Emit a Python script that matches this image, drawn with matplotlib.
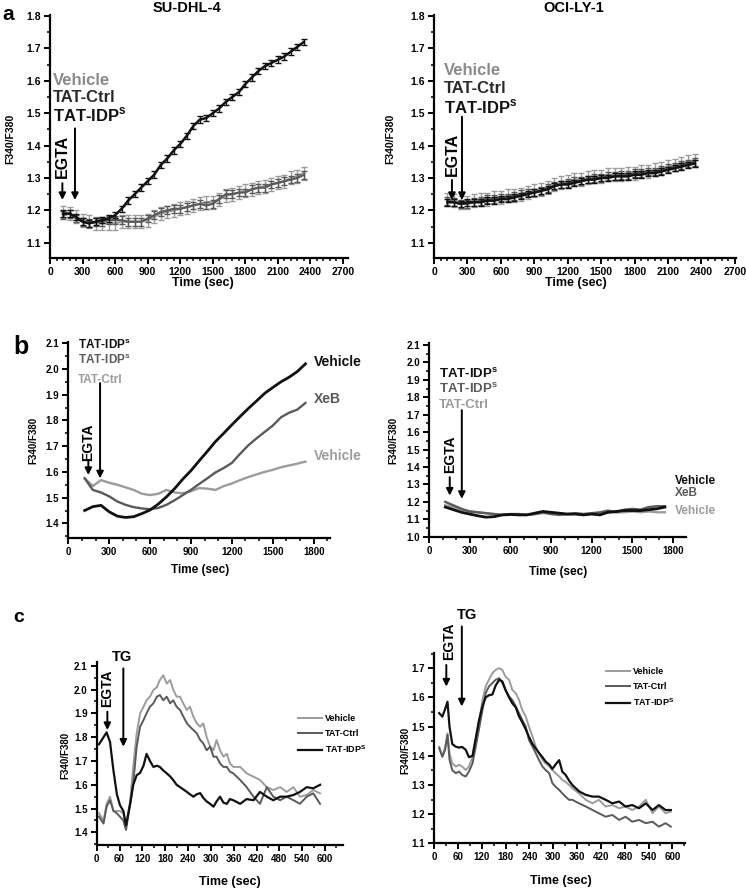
import matplotlib
matplotlib.use("Agg")
import matplotlib.pyplot as plt
from matplotlib.ticker import AutoMinorLocator, FormatStrFormatter
import numpy as np

plt.rcParams["font.family"] = ["Liberation Sans", "DejaVu Sans"]
plt.rcParams["font.weight"] = "bold"
plt.rcParams["mathtext.fontset"] = "custom"
plt.rcParams["mathtext.rm"] = "Liberation Sans"
plt.rcParams["mathtext.bf"] = "Liberation Sans:bold"

LIGHT = "#9c9c9c"
DARK = "#5a5a5a"
BLACK = "#111111"
IDP = r"TAT-IDP$^\mathbf{s}$"

# ---- panel a: mean +/- sem, 60 s sampling ----
a_time = np.arange(120, 2341, 60)
a_left_vehicle = [1.195, 1.19, 1.18, 1.17, 1.165, 1.16, 1.16, 1.16, 1.16, 1.165, 1.165, 1.165, 1.165,
                  1.17, 1.18, 1.19, 1.195, 1.20, 1.205, 1.21, 1.215, 1.22, 1.225, 1.225, 1.235, 1.245,
                  1.25, 1.255, 1.26, 1.265, 1.27, 1.275, 1.28, 1.285, 1.29, 1.30, 1.305, 1.315]
a_left_ctrl = [1.185, 1.19, 1.175, 1.165, 1.16, 1.165, 1.165, 1.17, 1.17, 1.17, 1.165, 1.165, 1.165,
               1.175, 1.185, 1.195, 1.20, 1.205, 1.205, 1.21, 1.215, 1.22, 1.215, 1.22, 1.235, 1.25,
               1.25, 1.255, 1.255, 1.265, 1.27, 1.27, 1.28, 1.285, 1.29, 1.295, 1.30, 1.31]
a_left_idp = [1.19, 1.19, 1.18, 1.165, 1.16, 1.165, 1.17, 1.175, 1.185, 1.205, 1.23, 1.25, 1.27,
              1.29, 1.31, 1.34, 1.36, 1.385, 1.405, 1.43, 1.46, 1.48, 1.485, 1.50, 1.515, 1.535,
              1.55, 1.565, 1.59, 1.61, 1.63, 1.645, 1.655, 1.665, 1.675, 1.69, 1.705, 1.72]
a_right_vehicle = [1.235, 1.23, 1.225, 1.225, 1.23, 1.235, 1.235, 1.24, 1.24, 1.245, 1.245, 1.25, 1.255,
                   1.26, 1.265, 1.27, 1.28, 1.285, 1.29, 1.295, 1.295, 1.30, 1.305, 1.305, 1.31, 1.31,
                   1.31, 1.315, 1.315, 1.32, 1.32, 1.325, 1.33, 1.335, 1.34, 1.345, 1.35, 1.355]
a_right_ctrl = [1.23, 1.225, 1.22, 1.22, 1.225, 1.23, 1.235, 1.235, 1.24, 1.24, 1.245, 1.25, 1.255,
                1.255, 1.26, 1.27, 1.275, 1.28, 1.285, 1.29, 1.29, 1.295, 1.30, 1.30, 1.305, 1.305,
                1.31, 1.31, 1.315, 1.315, 1.32, 1.32, 1.325, 1.33, 1.335, 1.34, 1.345, 1.35]
a_right_idp = [1.225, 1.225, 1.22, 1.225, 1.225, 1.225, 1.23, 1.23, 1.235, 1.235, 1.24, 1.245, 1.25,
               1.255, 1.26, 1.265, 1.275, 1.28, 1.28, 1.285, 1.29, 1.295, 1.295, 1.30, 1.30, 1.305,
               1.305, 1.305, 1.31, 1.31, 1.315, 1.315, 1.32, 1.325, 1.33, 1.335, 1.34, 1.345]
a_err_vehicle = 0.02
a_err_ctrl = 0.012
a_err_idp = 0.01

# ---- panel b: 60 s sampling ----
b_time = np.arange(120, 1741, 60)
b_left_black = [1.45, 1.465, 1.47, 1.445, 1.428, 1.423, 1.426, 1.438, 1.452, 1.475, 1.503, 1.535, 1.572,
                1.605, 1.643, 1.68, 1.718, 1.75, 1.783, 1.815, 1.846, 1.875, 1.905, 1.928, 1.95, 1.968,
                1.99, 2.02]
b_left_dark = [1.575, 1.53, 1.52, 1.505, 1.485, 1.472, 1.463, 1.458, 1.455, 1.46, 1.472, 1.49, 1.51,
               1.53, 1.553, 1.575, 1.598, 1.615, 1.635, 1.67, 1.703, 1.73, 1.755, 1.78, 1.812, 1.83,
               1.842, 1.868]
b_left_light = [1.575, 1.545, 1.568, 1.558, 1.55, 1.54, 1.53, 1.515, 1.51, 1.515, 1.53, 1.52, 1.517,
                1.525, 1.537, 1.535, 1.53, 1.545, 1.555, 1.568, 1.58, 1.59, 1.60, 1.608, 1.618, 1.625,
                1.632, 1.64]
b_right_black = [1.17, 1.155, 1.14, 1.13, 1.12, 1.112, 1.115, 1.125, 1.128, 1.125, 1.125, 1.135, 1.145,
                 1.14, 1.135, 1.13, 1.13, 1.125, 1.13, 1.125, 1.14, 1.145, 1.15, 1.15, 1.15, 1.155,
                 1.16, 1.17]
b_right_dark = [1.2, 1.18, 1.16, 1.145, 1.14, 1.135, 1.13, 1.125, 1.13, 1.13, 1.125, 1.13, 1.14,
                1.13, 1.125, 1.13, 1.135, 1.13, 1.135, 1.14, 1.15, 1.14, 1.155, 1.16, 1.155, 1.17,
                1.175, 1.175]
b_right_light = [1.18, 1.17, 1.155, 1.145, 1.14, 1.135, 1.13, 1.125, 1.125, 1.13, 1.125, 1.13, 1.135,
                 1.135, 1.13, 1.128, 1.13, 1.13, 1.132, 1.135, 1.14, 1.14, 1.14, 1.145, 1.14, 1.145,
                 1.14, 1.14]

# ---- panel c, SU-DHL-4 ----
c_left_time = [6, 18, 26, 35, 44, 53, 61, 70, 77, 88, 96, 105, 114, 123, 131, 140, 149, 158, 166, 175,
               184, 193, 201, 210, 219, 228, 237, 245, 254, 263, 272, 280, 289, 298, 307, 315, 324, 333,
               342, 350, 359, 377, 394, 412, 429, 447, 464, 482, 499, 517, 534, 552, 569, 587]
c_left_vehicle = [1.48, 1.45, 1.52, 1.55, 1.49, 1.49, 1.49, 1.48, 1.42, 1.535,
                  1.675, 1.815, 1.90, 1.928, 1.955, 1.97, 1.998, 2.01, 2.04, 2.06,
                  2.025, 2.04, 2.0, 1.97, 1.97, 1.94, 1.914, 1.928, 1.886, 1.858,
                  1.844, 1.858, 1.80, 1.76, 1.745, 1.788, 1.745, 1.718, 1.73, 1.69,
                  1.675, 1.675, 1.648, 1.634, 1.62, 1.59, 1.578, 1.59, 1.57, 1.59,
                  1.55, 1.557, 1.578, 1.564]
c_left_ctrl = [1.466, 1.437, 1.508, 1.535, 1.49, 1.48, 1.466, 1.45, 1.41, 1.52,
               1.606, 1.76, 1.844, 1.872, 1.90, 1.928, 1.942, 1.97, 1.977, 1.955,
               1.97, 1.942, 1.955, 1.928, 1.914, 1.886, 1.858, 1.844, 1.83, 1.816,
               1.788, 1.774, 1.745, 1.76, 1.718, 1.718, 1.69, 1.675, 1.675, 1.655,
               1.648, 1.62, 1.59, 1.55, 1.52, 1.59, 1.55, 1.535, 1.55, 1.535,
               1.52, 1.55, 1.564, 1.52]
c_left_idp = [1.77, 1.80, 1.82, 1.78, 1.66, 1.56, 1.515, 1.49, 1.43, 1.52,
              1.60, 1.64, 1.65, 1.68, 1.73, 1.70, 1.675, 1.68, 1.675, 1.66,
              1.648, 1.635, 1.62, 1.60, 1.59, 1.58, 1.57, 1.56, 1.55, 1.56,
              1.565, 1.545, 1.53, 1.52, 1.508, 1.53, 1.55, 1.525, 1.52, 1.54,
              1.535, 1.52, 1.54, 1.535, 1.57, 1.55, 1.535, 1.55, 1.55, 1.557,
              1.57, 1.59, 1.585, 1.60]

# ---- panel c, OCI-LY-1 ----
c_right_time = [13, 21, 28, 34, 39, 46, 55, 63, 71, 80, 88, 97, 105, 113, 122, 130, 138, 147, 155, 164,
                172, 180, 189, 197, 206, 214, 222, 231, 239, 248, 256, 264, 273, 281, 290, 298, 306, 315,
                323, 331, 340, 348, 365, 382, 399, 415, 432, 449, 466, 482, 499, 516, 533, 550, 566, 583,
                596]
c_right_vehicle = [1.431, 1.397, 1.431, 1.477, 1.409, 1.374,
                   1.363, 1.369, 1.363, 1.351, 1.363, 1.397, 1.454, 1.511, 1.591, 1.637,
                   1.66, 1.683, 1.694, 1.70, 1.694, 1.671, 1.66, 1.626, 1.614, 1.591,
                   1.557, 1.534, 1.50, 1.466, 1.431, 1.409, 1.386, 1.374, 1.363, 1.351,
                   1.34, 1.329, 1.317, 1.311, 1.30, 1.289,
                   1.271, 1.249, 1.237, 1.249, 1.226, 1.231, 1.22, 1.226, 1.214, 1.226, 1.249, 1.203,
                   1.226, 1.203, 1.209]
c_right_ctrl = [1.426, 1.397, 1.42, 1.471, 1.386, 1.351,
                1.34, 1.346, 1.334, 1.329, 1.346, 1.374, 1.431, 1.489, 1.557, 1.614,
                1.637, 1.649, 1.66, 1.666, 1.649, 1.626, 1.603, 1.591, 1.569, 1.546,
                1.523, 1.50, 1.454, 1.431, 1.409, 1.386, 1.363, 1.351, 1.34, 1.306,
                1.294, 1.283, 1.271, 1.26, 1.249, 1.249,
                1.237, 1.226, 1.214, 1.203, 1.191, 1.197, 1.18, 1.191, 1.174, 1.18, 1.169, 1.174,
                1.157, 1.169, 1.157]
c_right_idp = [1.546, 1.534, 1.56, 1.585, 1.50, 1.44,
               1.431, 1.428, 1.43, 1.42, 1.395, 1.40, 1.46, 1.52, 1.57, 1.60,
               1.607, 1.61, 1.64, 1.66, 1.655, 1.625, 1.60, 1.58, 1.565, 1.535,
               1.515, 1.49, 1.465, 1.44, 1.425, 1.41, 1.395, 1.38, 1.37, 1.355,
               1.37, 1.385, 1.345, 1.335, 1.315, 1.30,
               1.278, 1.266, 1.26, 1.26, 1.249, 1.237, 1.243, 1.226, 1.231, 1.22, 1.237, 1.214,
               1.231, 1.214, 1.214]

W, H = 746, 890
fig = plt.figure(figsize=(W / 100, H / 100), dpi=100)


def add_ax(x0, y_top, x1, y_bot):
    # pixel box of the axes -> figure fraction
    return fig.add_axes([x0 / W, 1 - y_bot / H, (x1 - x0) / W, (y_bot - y_top) / H])


def style(ax, xlim, ylim, xticks, yticks, xminor, yminor, tfs, xlab, ylab, xl_pos, yl_pos, lfs, yfs):
    ax.set_xlim(*xlim)
    ax.set_ylim(*ylim)
    ax.set_xticks(xticks)
    ax.set_yticks(yticks)
    ax.yaxis.set_major_formatter(FormatStrFormatter("%.1f"))
    ax.xaxis.set_minor_locator(AutoMinorLocator(xminor))
    ax.yaxis.set_minor_locator(AutoMinorLocator(yminor))
    for s in ("top", "right"):
        ax.spines[s].set_visible(False)
    for s in ("left", "bottom"):
        ax.spines[s].set_linewidth(1.6)
    ax.tick_params(which="major", length=4.5, width=1.4, labelsize=tfs, pad=2)
    ax.tick_params(which="minor", length=2.3, width=1.1)
    for lab in ax.get_xticklabels() + ax.get_yticklabels():
        lab.set_fontweight("bold")
    ax.set_xlabel(xlab, fontsize=lfs, fontweight="bold")
    ax.set_ylabel(ylab, fontsize=yfs, fontweight="bold")
    ax.xaxis.set_label_coords(*xl_pos)
    ax.yaxis.set_label_coords(*yl_pos)
    ax.xaxis.label.set_va("center")
    ax.yaxis.label.set_va("center")


def arrow(ax, x, y0, y1, lw=1.4, ms=10):
    ax.annotate("", xy=(x, y1), xytext=(x, y0), annotation_clip=False,
                arrowprops=dict(arrowstyle="-|>", color="black", lw=lw, mutation_scale=ms,
                                shrinkA=0, shrinkB=0))


def vtext(ax, x, y, s, fs):
    ax.text(x, y, s, rotation=90, ha="center", va="center", fontsize=fs, fontweight="bold")


# ================= panel a =================
for side in ("left", "right"):
    if side == "left":
        ax = add_ax(50, 15, 348, 258)
        veh, ctl, idp = a_left_vehicle, a_left_ctrl, a_left_idp
        xl = (0, 2746)
        lab_x, lab_y = 28, (1.600, 1.548, 1.495)
        egx, eg_y, arr1, arr2 = 114, 1.366, (114, 1.284, 1.232), (230, 1.453, 1.232)
        xl_pos, yl_pos = (0.513, -0.103), (-0.135, 0.49)
    else:
        ax = add_ax(434, 15, 736, 258)
        veh, ctl, idp = a_right_vehicle, a_right_ctrl, a_right_idp
        xl = (0, 2710)
        lab_x, lab_y = 90, (1.633, 1.577, 1.520)
        egx, eg_y, arr1, arr2 = 161, 1.374, (161, 1.294, 1.232), (251, 1.489, 1.232)
        xl_pos, yl_pos = (0.47, -0.103), (-0.146, 0.49)
    ax.errorbar(a_time, veh, yerr=a_err_vehicle, color=LIGHT, lw=1.6, elinewidth=1.0,
                capsize=2, capthick=1.0, zorder=2)
    ax.errorbar(a_time, ctl, yerr=a_err_ctrl, color=DARK, lw=1.6, elinewidth=1.0,
                capsize=2, capthick=1.0, zorder=3)
    ax.errorbar(a_time, idp, yerr=a_err_idp, color=BLACK, lw=1.8, elinewidth=1.0,
                capsize=2, capthick=1.0, zorder=4)
    style(ax, xl, (1.053, 1.803), np.arange(0, 2701, 300), np.arange(1.1, 1.81, 0.1),
          5, 2, 7.5, "Time (sec)", "F340/F380", xl_pos, yl_pos, 9, 7.5)
    ax.text(lab_x, lab_y[0], "Vehicle", color="#8a8a8a", fontsize=12, fontweight="bold", va="center")
    ax.text(lab_x, lab_y[1], "TAT-Ctrl", color="#2a2a2a", fontsize=12, fontweight="bold", va="center")
    ax.text(lab_x, lab_y[2], IDP, color=BLACK, fontsize=12, fontweight="bold", va="center")
    vtext(ax, egx, eg_y, "EGTA", 11.5)
    arrow(ax, *arr1)
    arrow(ax, *arr2)

fig.text(187 / W, 1 - 8 / H, "SU-DHL-4", ha="center", va="center", fontsize=10.5, fontweight="bold")
fig.text(574 / W, 1 - 8 / H, "OCI-LY-1", ha="center", va="center", fontsize=10.5, fontweight="bold")
fig.text(2 / W, 1 - 15 / H, "a", ha="left", va="center", fontsize=15, fontweight="bold")

# ================= panel b =================
ax = add_ax(68.3, 341.7, 330, 538.3)
ax.plot(b_time, b_left_light, color=LIGHT, lw=1.7)
ax.plot(b_time, b_left_dark, color=DARK, lw=1.7)
ax.plot(b_time, b_left_black, color=BLACK, lw=2.0)
style(ax, (0, 1920), (1.342, 2.106), np.arange(0, 1801, 300), np.arange(1.4, 2.11, 0.1),
      3, 2, 7, "Time (sec)", "F340/F380", (0.503, -0.161), (-0.135, 0.5), 8.5, 7)
ax.text(73, 2.094, IDP, color=BLACK, fontsize=8.5, fontweight="bold", va="center")
ax.text(73, 2.035, IDP, color=DARK, fontsize=8.5, fontweight="bold", va="center")
ax.text(73, 1.958, "TAT-Ctrl", color=LIGHT, fontsize=8.5, fontweight="bold", va="center")
ax.text(1800, 2.029, "Vehicle", color=BLACK, fontsize=10, fontweight="bold", va="center")
ax.text(1800, 1.882, "XeB", color=DARK, fontsize=10, fontweight="bold", va="center")
ax.text(1800, 1.660, "Vehicle", color=LIGHT, fontsize=10, fontweight="bold", va="center")
vtext(ax, 147, 1.715, "EGTA", 10)
arrow(ax, 147, 1.647, 1.588)
arrow(ax, 233, 1.945, 1.575)

ax = add_ax(429, 343.3, 686.3, 536.7)
ax.plot(b_time, b_right_light, color=LIGHT, lw=1.7)
ax.plot(b_time, b_right_dark, color=DARK, lw=1.7)
ax.plot(b_time, b_right_black, color=BLACK, lw=2.0)
style(ax, (0, 1898), (1.0, 2.11), np.arange(0, 1801, 300), np.arange(1.0, 2.11, 0.1),
      3, 2, 7, "Time (sec)", "F340/F380", (0.502, -0.181), (-0.14, 0.5), 8.5, 7)
ax.text(74, 1.937, IDP, color=BLACK, fontsize=9.5, fontweight="bold", va="center")
ax.text(74, 1.850, IDP, color=DARK, fontsize=9.5, fontweight="bold", va="center")
ax.text(74, 1.755, "TAT-Ctrl", color=LIGHT, fontsize=9.5, fontweight="bold", va="center")
ax.text(1813, 1.318, "Vehicle", color=BLACK, fontsize=8.5, fontweight="bold", va="center")
ax.text(1813, 1.250, "XeB", color=DARK, fontsize=8.5, fontweight="bold", va="center")
ax.text(1813, 1.150, "Vehicle", color=LIGHT, fontsize=8.5, fontweight="bold", va="center")
vtext(ax, 153, 1.472, "EGTA", 10)
arrow(ax, 153, 1.342, 1.236)
arrow(ax, 242, 1.726, 1.217)

fig.text(13 / W, 1 - 347 / H, "b", ha="left", va="center", fontsize=18, fontweight="bold")

# ================= panel c =================
ax = add_ax(96.7, 661.7, 343.3, 845)
ax.plot(c_left_time, c_left_vehicle, color=LIGHT, lw=1.4, label="Vehicle")
ax.plot(c_left_time, c_left_ctrl, color=DARK, lw=1.4, label="TAT-Ctrl")
ax.plot(c_left_time, c_left_idp, color=BLACK, lw=1.6, label=r"TAT-IDP$^\mathbf{S}$")
style(ax, (0, 648), (1.347, 2.117), np.arange(0, 601, 60), np.arange(1.4, 2.11, 0.1),
      2, 2, 7, "Time (sec)", "F340/F380", (0.54, -0.2), (-0.128, 0.49), 9, 7)
ax.legend(loc="upper left", bbox_to_anchor=(0.80, 0.74), frameon=False, borderpad=0,
          prop=dict(size=6.5, weight="bold"), handlelength=2.6, handletextpad=0.3, labelspacing=0.65)
ax.text(66, 2.138, "TG", ha="center", va="center", fontsize=10.5, fontweight="bold")
arrow(ax, 70, 2.089, 1.76)
vtext(ax, 28, 2.005, "EGTA", 10)
arrow(ax, 28, 1.907, 1.83)

ax = add_ax(434, 653.3, 684.7, 843.3)
ax.plot(c_right_time, c_right_vehicle, color=LIGHT, lw=1.4, label="Vehicle")
ax.plot(c_right_time, c_right_ctrl, color=DARK, lw=1.4, label="TAT-Ctrl")
ax.plot(c_right_time, c_right_idp, color=BLACK, lw=1.6, label=r"TAT-IDP$^\mathbf{S}$")
style(ax, (0, 631), (1.1, 1.751), np.arange(0, 601, 60), np.arange(1.1, 1.71, 0.1),
      2, 2, 7, "Time (sec)", "F340/F380", (0.507, -0.2), (-0.116, 0.49), 9, 7)
ax.legend(loc="upper left", bbox_to_anchor=(0.67, 0.95), frameon=False, borderpad=0,
          prop=dict(size=6.5, weight="bold"), handlelength=2.6, handletextpad=0.3, labelspacing=0.6)
ax.text(84, 1.883, "TG", ha="center", va="center", fontsize=10.5, fontweight="bold")
arrow(ax, 70, 1.843, 1.569)
vtext(ax, 39, 1.791, "EGTA", 10)
arrow(ax, 31, 1.711, 1.637)

fig.text(13 / W, 1 - 617 / H, "c", ha="left", va="center", fontsize=14, fontweight="bold")

fig.savefig("out.png", dpi=100)
